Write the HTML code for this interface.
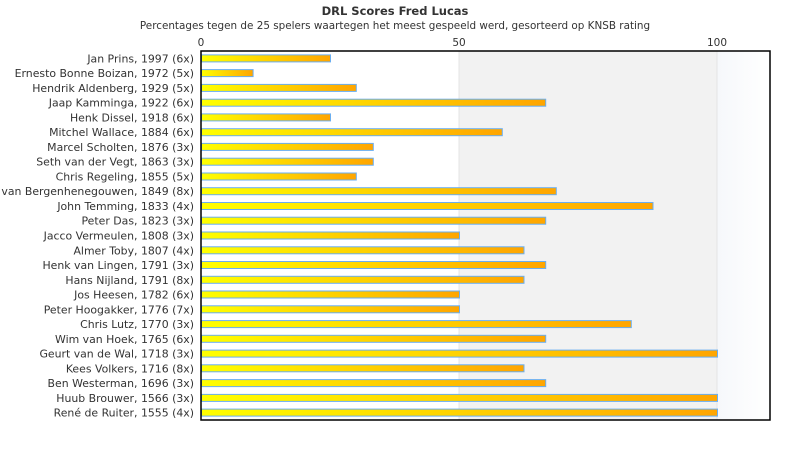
<!DOCTYPE html><html><head><style>body{margin:0;background:#fff}</style></head><body>
<svg width="790" height="450" xmlns="http://www.w3.org/2000/svg" font-family="DejaVu Sans, sans-serif">
<defs>
<linearGradient id="g" x1="0" x2="1" y1="0" y2="0"><stop offset="0" stop-color="#ffff00"/><stop offset="1" stop-color="#ffa500"/></linearGradient>
<linearGradient id="bg" x1="0" x2="1"><stop offset="0" stop-color="#f6f8fb"/><stop offset="1" stop-color="#ffffff"/></linearGradient>
</defs>
<text x="395" y="15" text-anchor="middle" font-size="11.5" font-weight="bold" fill="#333">DRL Scores Fred Lucas</text>
<text x="395" y="29" text-anchor="middle" font-size="10.4" fill="#333">Percentages tegen de 25 spelers waartegen het meest gespeeld werd, gesorteerd op KNSB rating</text>
<rect x="459" y="51" width="258" height="369" fill="#f2f2f2"/>
<rect x="717" y="51" width="53" height="369" fill="url(#bg)"/>
<line x1="459" y1="51" x2="459" y2="420" stroke="#e4e4e4"/>
<line x1="717" y1="51" x2="717" y2="420" stroke="#e4e4e4"/>
<g font-size="10.5" fill="#333" text-anchor="middle">
<text x="201" y="46">0</text><text x="459" y="46">50</text><text x="717" y="46">100</text></g>
<g font-size="10.9" fill="#333" text-anchor="end">
<text x="194" y="62.4">Jan Prins, 1997 (6x)</text>
<text x="194" y="77.1">Ernesto Bonne Boizan, 1972 (5x)</text>
<text x="194" y="91.9">Hendrik Aldenberg, 1929 (5x)</text>
<text x="194" y="106.7">Jaap Kamminga, 1922 (6x)</text>
<text x="194" y="121.4">Henk Dissel, 1918 (6x)</text>
<text x="194" y="136.2">Mitchel Wallace, 1884 (6x)</text>
<text x="194" y="150.9">Marcel Scholten, 1876 (3x)</text>
<text x="194" y="165.7">Seth van der Vegt, 1863 (3x)</text>
<text x="194" y="180.5">Chris Regeling, 1855 (5x)</text>
<text x="194" y="195.2">Bas van Bergenhenegouwen, 1849 (8x)</text>
<text x="194" y="210">John Temming, 1833 (4x)</text>
<text x="194" y="224.7">Peter Das, 1823 (3x)</text>
<text x="194" y="239.5">Jacco Vermeulen, 1808 (3x)</text>
<text x="194" y="254.3">Almer Toby, 1807 (4x)</text>
<text x="194" y="269">Henk van Lingen, 1791 (3x)</text>
<text x="194" y="283.8">Hans Nijland, 1791 (8x)</text>
<text x="194" y="298.5">Jos Heesen, 1782 (6x)</text>
<text x="194" y="313.3">Peter Hoogakker, 1776 (7x)</text>
<text x="194" y="328.1">Chris Lutz, 1770 (3x)</text>
<text x="194" y="342.8">Wim van Hoek, 1765 (6x)</text>
<text x="194" y="357.6">Geurt van de Wal, 1718 (3x)</text>
<text x="194" y="372.3">Kees Volkers, 1716 (8x)</text>
<text x="194" y="387.1">Ben Westerman, 1696 (3x)</text>
<text x="194" y="401.9">Huub Brouwer, 1566 (3x)</text>
<text x="194" y="416.6">René de Ruiter, 1555 (4x)</text>
</g>
<g fill="url(#g)" stroke="#6aaef0" stroke-width="1">
<rect x="201.5" y="54.9" width="129" height="7"/>
<rect x="201.5" y="69.6" width="51.6" height="7"/>
<rect x="201.5" y="84.4" width="154.8" height="7"/>
<rect x="201.5" y="99.2" width="344.2" height="7"/>
<rect x="201.5" y="113.9" width="129" height="7"/>
<rect x="201.5" y="128.7" width="300.8" height="7"/>
<rect x="201.5" y="143.4" width="171.8" height="7"/>
<rect x="201.5" y="158.2" width="171.8" height="7"/>
<rect x="201.5" y="173" width="154.8" height="7"/>
<rect x="201.5" y="187.7" width="354.8" height="7"/>
<rect x="201.5" y="202.5" width="451.5" height="7"/>
<rect x="201.5" y="217.2" width="344.2" height="7"/>
<rect x="201.5" y="232" width="258" height="7"/>
<rect x="201.5" y="246.8" width="322.5" height="7"/>
<rect x="201.5" y="261.5" width="344.2" height="7"/>
<rect x="201.5" y="276.3" width="322.5" height="7"/>
<rect x="201.5" y="291" width="258" height="7"/>
<rect x="201.5" y="305.8" width="258" height="7"/>
<rect x="201.5" y="320.6" width="429.8" height="7"/>
<rect x="201.5" y="335.3" width="344.2" height="7"/>
<rect x="201.5" y="350.1" width="516" height="7"/>
<rect x="201.5" y="364.8" width="322.5" height="7"/>
<rect x="201.5" y="379.6" width="344.2" height="7"/>
<rect x="201.5" y="394.4" width="516" height="7"/>
<rect x="201.5" y="409.1" width="516" height="7"/>
</g>
<rect x="201" y="51" width="569" height="369" fill="none" stroke="#000" stroke-width="1.5"/>
</svg></body></html>
